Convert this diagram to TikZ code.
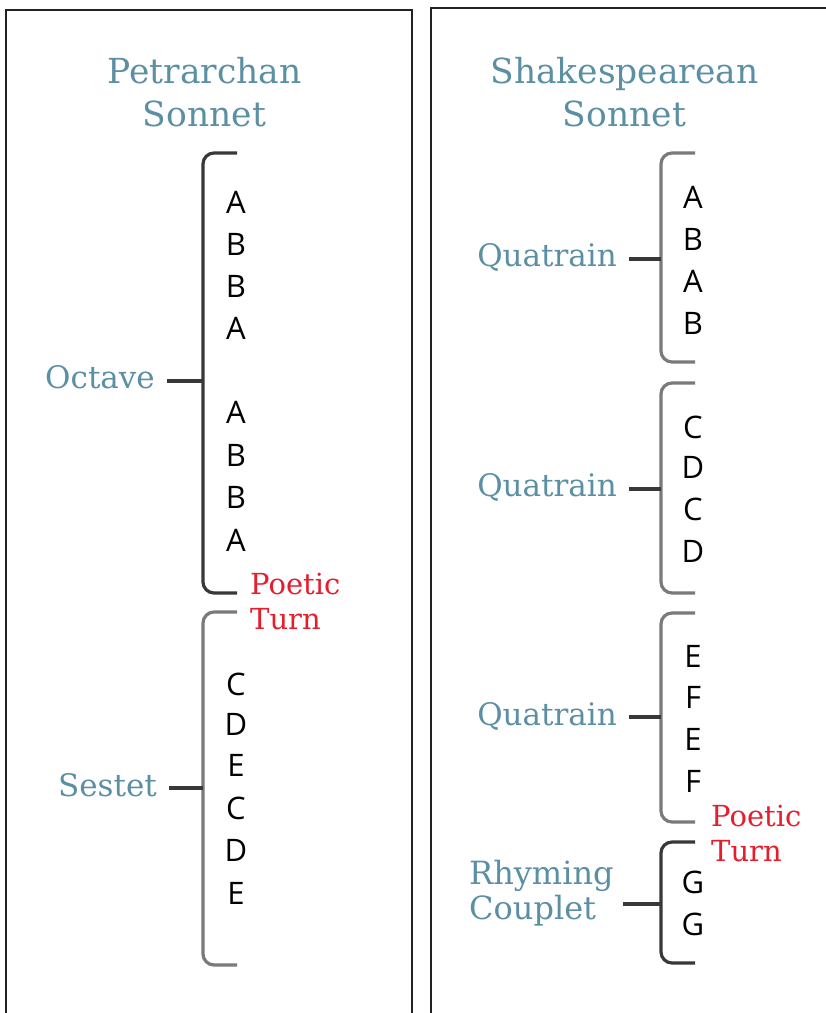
\documentclass[tikz,border=0pt]{standalone}
\usepackage{fontspec}
\setmainfont{DejaVu Serif}
\newfontfamily\letterfont{Open Sans}
\definecolor{teal}{HTML}{5B8FA3}
\definecolor{turnred}{HTML}{E41E2D}
\definecolor{darkline}{HTML}{383838}
\definecolor{grayline}{HTML}{7A7A7A}
\definecolor{framecol}{HTML}{222222}
\tikzset{
  frame/.style={draw=framecol, line width=2pt},
  title/.style={text=teal, font=\fontsize{34.5}{43}\selectfont, align=center, inner sep=0},
  part/.style={text=teal, font=\fontsize{31}{35}\selectfont, inner sep=0},
  turn/.style={text=turnred, font=\fontsize{29}{35}\selectfont, align=left, inner sep=0, anchor=base west},
  rhyme/.style={font=\letterfont\fontsize{31}{33}\selectfont, inner sep=0, anchor=base},
  darkbr/.style={draw=darkline, line width=3.2pt, rounded corners=11pt},
  graybr/.style={draw=grayline, line width=3.2pt, rounded corners=11pt},
  stub/.style={draw=darkline, line width=3.2pt, shorten <=12pt}
}
\begin{document}
\begin{tikzpicture}[x=1pt,y=-1pt]
\useasboundingbox (0,0) rectangle (826,1013);
% frames
\draw[frame] (6,1020) -- (6,10) -- (412,10) -- (412,1020);
\draw[frame] (431,1020) -- (431,8) -- (830,8);
% titles
\node[title, anchor=base] (tp1) at (204.5,83) {Petrarchan};
\node[title, anchor=base] (tp2) at (204.5,126) {Sonnet};
\node[title, anchor=base] (ts1) at (624.5,83) {Shakespearean};
\node[title, anchor=base] (ts2) at (624.5,126) {Sonnet};
% left letters
\foreach \l/\y [count=\i] in {A/202,B/244,B/286,A/328,A/412,B/455,B/497,A/540}
  \node[rhyme] (o\i) at (236,\y+11) {\l};
\foreach \l/\y [count=\i] in {C/684,D/724,E/765,C/808,D/850,E/893}
  \node[rhyme] (s\i) at (236,\y+11) {\l};
% right letters
\foreach \l/\y [count=\i] in {A/197,B/239,A/281,B/323}
  \node[rhyme] (qa\i) at (693,\y+11) {\l};
\foreach \l/\y [count=\i] in {C/427,D/467,C/509,D/551}
  \node[rhyme] (qb\i) at (693,\y+11) {\l};
\foreach \l/\y [count=\i] in {E/656,F/697,E/739,F/781}
  \node[rhyme] (qc\i) at (693,\y+11) {\l};
\foreach \l/\y [count=\i] in {G/882,G/924}
  \node[rhyme] (g\i) at (693,\y+11) {\l};
% brackets left
\draw[darkbr] (237,153) -| (203,593) -- (237,593);
\draw[graybr] (237,612) -| (203,965) -- (237,965);
% brackets right
\draw[graybr] (695,153) -| (661,362) -- (695,362);
\draw[graybr] (695,383) -| (661,593) -- (695,593);
\draw[graybr] (695,613) -| (661,822) -- (695,822);
\draw[darkbr] (695,842) -| (661,963) -- (695,963);
% spine coordinates
\coordinate (octb) at (203,381);
\coordinate (sesb) at (203,788);
\coordinate (q1b) at (661,259);
\coordinate (q2b) at (661,489);
\coordinate (q3b) at (661,717);
\coordinate (cpb) at (661,904);
% labels
\node[part, anchor=base east] (oct) at (155,388) {Octave};
\node[part, anchor=base east] (ses) at (157,796) {Sestet};
\node[part, anchor=base east] (q1) at (617,266) {Quatrain};
\node[part, anchor=base east] (q2) at (617,496) {Quatrain};
\node[part, anchor=base east] (q3) at (617,725) {Quatrain};
\node[part, anchor=base west, align=left, font=\fontsize{32}{35}\selectfont] (cp) at (469,919) {Rhyming\\Couplet};
% stubs
\draw[stub] (oct.east |- octb) -- (octb);
\draw[stub] (ses.east |- sesb) -- (sesb);
\draw[stub] (q1.east |- q1b) -- (q1b);
\draw[stub] (q2.east |- q2b) -- (q2b);
\draw[stub] (q3.east |- q3b) -- (q3b);
\draw[stub, shorten <=9pt] (cp.east |- cpb) -- (cpb);
% poetic turns
\node[turn] (pt1) at (250,629) {Poetic\\Turn};
\node[turn] (pt2) at (711,861) {Poetic\\Turn};
\end{tikzpicture}
\end{document}
